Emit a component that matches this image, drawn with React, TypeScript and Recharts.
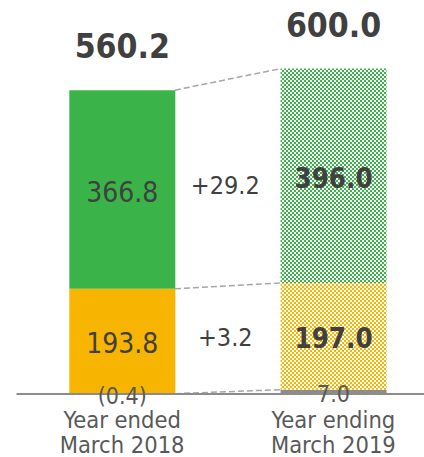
import React from 'react'
import { BarChart, Bar, XAxis, YAxis, Cell, LabelList, ReferenceLine } from 'recharts'

const categories = [
  ['Year ended', 'March 2018'],
  ['Year ending', 'March 2019'],
]
const otherValues = [-0.4, 7.0]
const orangeValues = [193.8, 197.0]
const greenValues = [366.8, 396.0]
const totalValues = [560.2, 600.0]
const diffLabels = ['+29.2', '+3.2'] // green change, orange change

const GREEN = '#3AB449'
const ORANGE = '#F8B500'
const GRAY = '#8C8C8C'
const TEXT = '#404040'
const SUB = '#595959'
const FONT = '"DejaVu Sans Condensed", "DejaVu Sans", Verdana, sans-serif'

const data = categories.map((c, i) => ({
  name: c.join(' '),
  pos: i + 0.5,
  other: otherValues[i],
  orange: orangeValues[i],
  green: greenValues[i],
  total: totalValues[i],
}))

// stack levels used for the dashed connectors
const lvl1 = otherValues
const lvl2 = otherValues.map((v, i) => v + orangeValues[i])
const lvl3 = lvl2.map((v, i) => v + greenValues[i])

const fmt = (v: number) => (v < 0 ? `(${Math.abs(v).toFixed(1)})` : v.toFixed(1))

const boxOf = (p: any) => p.viewBox ?? p

const segmentLabel = (diff: string) => (p: any) => {
  const { x, y, width, height } = boxOf(p)
  const i = p.index
  const bold = i === 1
  const cx = x + width / 2
  const cy = y + height / 2 + 2
  return (
    <g>
      <text x={cx} y={cy} dy="0.36em" textAnchor="middle" fill={TEXT} fontFamily={FONT}
        fontSize={bold ? 27.5 : 28} fontWeight={bold ? 'bold' : 'normal'}>
        {fmt(Number(p.value))}
      </text>
      {i === 0 && (
        <text x={x + width * 1.5 - 3} y={cy - 6} dy="0.36em" textAnchor="middle" fill={TEXT}
          fontFamily={FONT} fontSize={25}>
          {diff}
        </text>
      )}
    </g>
  )
}

const otherLabel = (p: any) => {
  const { x, y, width, height } = boxOf(p)
  return (
    <text x={x + width / 2} y={y + height / 2 + 2} dy="0.36em" textAnchor="middle" fill={SUB}
      fontFamily={FONT} fontSize={23}>
      {fmt(Number(p.value))}
    </text>
  )
}

const totalLabel = (p: any) => {
  const { x, y, width } = boxOf(p)
  return (
    <text x={x + width / 2} y={y - 32} textAnchor="middle" fill={TEXT} fontFamily={FONT}
      fontSize={33.5} fontWeight="bold">
      {Number(p.value).toFixed(1)}
    </text>
  )
}

const CategoryTick = (p: any) => {
  const lines = categories[p.index ?? p.payload?.index ?? 0]
  return (
    <text x={p.x} y={p.y} textAnchor="middle" fill={SUB} fontFamily={FONT} fontSize={23.5}>
      <tspan x={p.x} dy={34}>{lines[0]}</tspan>
      <tspan x={p.x} dy={25}>{lines[1]}</tspan>
    </text>
  )
}

const connector = (a: number, b: number, key: string) => (
  <ReferenceLine
    key={key}
    xAxisId="pos"
    yAxisId={0}
    segment={[{ x: 0.75, y: a }, { x: 1.25, y: b }]}
    stroke="#A6A6A6"
    strokeWidth={1.5}
    strokeDasharray="6 3"
    ifOverflow="visible"
  />
)

export default function App() {
  return (
    <div style={{ position: 'absolute', left: 0, top: 0, width: 424, height: 457, overflow: 'hidden', background: '#fff' }}>
      <BarChart
        width={439}
        height={457}
        data={data}
        margin={{ top: 15, right: 0, left: 16.5, bottom: 0 }}
        barCategoryGap="25%"
      >
        <defs>
          <pattern id="greenCheck" width={4} height={4} patternUnits="userSpaceOnUse">
            <rect width={4} height={4} fill="#fff" />
            <rect width={2} height={2} fill={GREEN} />
            <rect x={2} y={2} width={2} height={2} fill={GREEN} />
          </pattern>
          <pattern id="orangeCheck" width={4} height={4} patternUnits="userSpaceOnUse">
            <rect width={4} height={4} fill="#fff" />
            <rect width={2} height={2} fill={ORANGE} />
            <rect x={2} y={2} width={2} height={2} fill={ORANGE} />
          </pattern>
        </defs>
        <XAxis
          xAxisId="cat"
          dataKey="name"
          height={63}
          axisLine={{ stroke: GRAY, strokeWidth: 2 }}
          tickLine={false}
          tickSize={0}
          tickMargin={0}
          interval={0}
          tick={<CategoryTick />}
        />
        <XAxis xAxisId="pos" dataKey="pos" type="number" domain={[0, 2]} allowDataOverflow hide />
        <YAxis yAxisId={0} hide domain={[-1, 699]} allowDataOverflow />
        <Bar xAxisId="cat" dataKey="other" stackId="s" fill={GRAY} isAnimationActive={false}>
          <LabelList dataKey="other" content={otherLabel} />
        </Bar>
        <Bar xAxisId="cat" dataKey="orange" stackId="s" isAnimationActive={false}>
          {data.map((_, i) => (
            <Cell key={i} fill={i === 0 ? ORANGE : 'url(#orangeCheck)'} />
          ))}
          <LabelList dataKey="orange" content={segmentLabel(diffLabels[1])} />
        </Bar>
        <Bar xAxisId="cat" dataKey="green" stackId="s" isAnimationActive={false}>
          {data.map((_, i) => (
            <Cell key={i} fill={i === 0 ? GREEN : 'url(#greenCheck)'} />
          ))}
          <LabelList dataKey="green" content={segmentLabel(diffLabels[0])} />
          <LabelList dataKey="total" content={totalLabel} />
        </Bar>
        {connector(lvl1[0], lvl1[1], 'c1')}
        {connector(lvl2[0], lvl2[1], 'c2')}
        {connector(lvl3[0], lvl3[1], 'c3')}
      </BarChart>
    </div>
  )
}
